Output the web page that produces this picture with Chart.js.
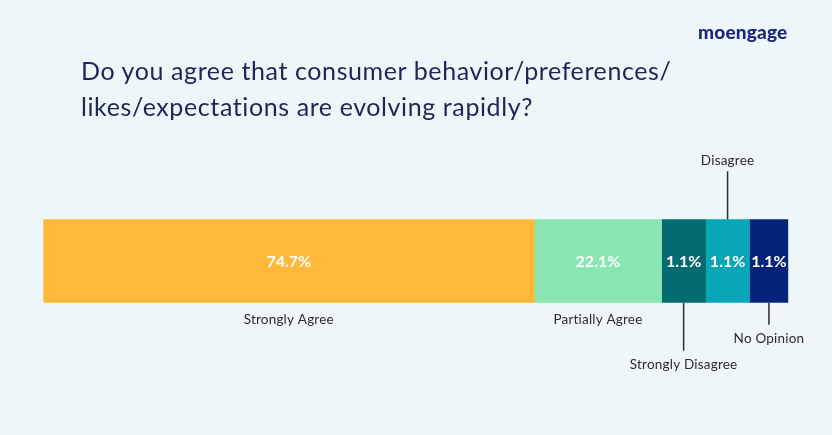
<!DOCTYPE html>
<html>
<head>
<meta charset="utf-8">
<script src="https://cdn.jsdelivr.net/npm/chart.js@4.4.1/dist/chart.umd.min.js"></script>
<style>
  html, body { margin: 0; padding: 0; background: #eef6f9; }
  #wrap { position: relative; width: 832px; height: 435px; overflow: hidden; }
  #chart { position: absolute; left: 0; top: 0; }
  #logo {
    position: absolute; left: 698px; top: 20px;
    font: 900 19px Lato, sans-serif; color: #1b2a78; letter-spacing: 0.2px;
  }
  #title {
    position: absolute; left: 81px; top: 52px; margin: 0;
    font: 400 25px/36px Lato, sans-serif; color: #1c2657; letter-spacing: 0.6px;
  }
</style>
</head>
<body>
<div id="wrap">
  <canvas id="chart" width="832" height="435"></canvas>
  <div id="logo">moengage</div>
  <h1 id="title">Do you agree that consumer behavior/preferences/<br>likes/expectations are evolving rapidly?</h1>
</div>
<script>
"use strict";

// answers and the printed share of respondents
const answers = ["Strongly Agree", "Partially Agree", "Strongly Disagree", "Disagree", "No Opinion"];
const percentLabels = [74.7, 22.1, 1.1, 1.1, 1.1];
// drawn length of each piece of the bar (the small ones are widened in the original)
const barShare = [65.9, 17.1, 5.9, 5.9, 5.2];
const colors = ["#ffb838", "#8ae6b0", "#046b73", "#08a6b6", "#052379"];
// where the answer name goes
const labelPlacement = ["under", "under", "underLong", "above", "underShort"];

const labelPlugin = {
    id: "segmentLabels",
    afterDatasetsDraw(chart) {
        const ctx = chart.ctx;
        ctx.save();
        chart.data.datasets.forEach((ds, i) => {
            const bar = chart.getDatasetMeta(i).data[0];
            const cx = (bar.x + bar.base) / 2;
            const top = bar.y - bar.height / 2;
            const bottom = bar.y + bar.height / 2;

            ctx.fillStyle = "#ffffff";
            ctx.font = "700 16px Lato, sans-serif";
            ctx.textAlign = "center";
            ctx.textBaseline = "middle";
            ctx.fillText(percentLabels[i] + "%", cx, bar.y + 1);

            ctx.fillStyle = "#2b2b2b";
            ctx.strokeStyle = "#2b2b2b";
            ctx.lineWidth = 1.5;
            ctx.font = "400 13.5px Lato, sans-serif";
            ctx.letterSpacing = "0.2px";
            let ty;
            const place = labelPlacement[i];
            if (place === "under") {
                ty = bottom + 17;
            } else if (place === "above") {
                ctx.beginPath();
                ctx.moveTo(cx, top);
                ctx.lineTo(cx, top - 48);
                ctx.stroke();
                ty = top - 59;
            } else if (place === "underLong") {
                ctx.beginPath();
                ctx.moveTo(cx, bottom);
                ctx.lineTo(cx, bottom + 48);
                ctx.stroke();
                ty = bottom + 62;
            } else {
                ctx.beginPath();
                ctx.moveTo(cx, bottom);
                ctx.lineTo(cx, bottom + 22);
                ctx.stroke();
                ty = bottom + 35.5;
            }
            ctx.fillText(answers[i], cx, ty);
            ctx.letterSpacing = "0px";
        });
        ctx.restore();
    }
};

new Chart(document.getElementById("chart"), {
    type: "bar",
    data: {
        labels: ["responses"],
        datasets: answers.map((name, i) => ({
            label: name,
            data: [barShare[i]],
            backgroundColor: colors[i],
            borderWidth: 0,
            barPercentage: 1,
            categoryPercentage: 1
        }))
    },
    options: {
        indexAxis: "y",
        responsive: false,
        animation: false,
        layout: {
            padding: { left: 43.3, right: 43.7, top: 219.3, bottom: 132.3 }
        },
        scales: {
            x: { stacked: true, min: 0, max: 100, display: false },
            y: { stacked: true, display: false }
        },
        plugins: {
            legend: { display: false },
            tooltip: { enabled: false }
        }
    },
    plugins: [labelPlugin]
});
</script>
</body>
</html>
